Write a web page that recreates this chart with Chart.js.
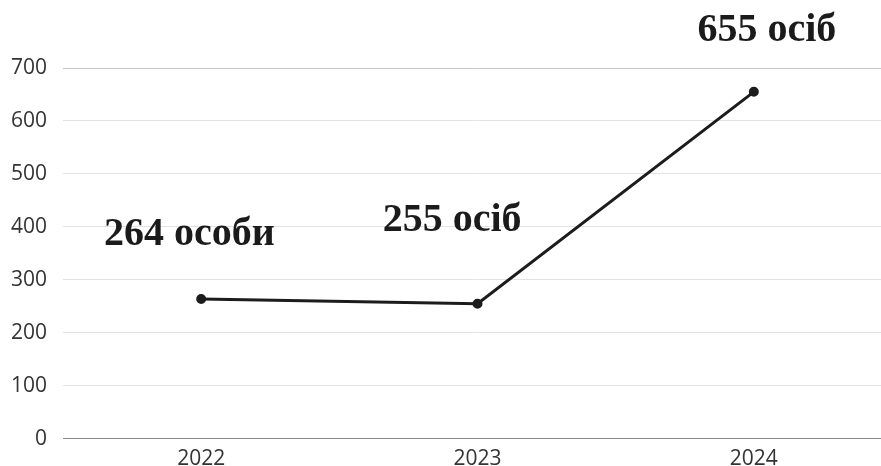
<!DOCTYPE html>
<html>
<head>
<meta charset="utf-8">
<script src="https://cdn.jsdelivr.net/npm/chart.js@4/dist/chart.umd.min.js"></script>
<style>
  html, body { margin: 0; padding: 0; background: #fff; overflow: hidden; }
  canvas { display: block; }
</style>
</head>
<body>
<canvas id="peopleChart" width="899" height="480"></canvas>
<script>
// data
let years = ["2022", "2023", "2024"];
let people = [264, 255, 655];
let noteTexts = ["264 особи", "255 осіб", "655 осіб"];
// where each note sits: shift in category steps, baseline in axis units
let noteDx = [-0.043, -0.092, 0.047];
let noteValue = [365, 393, 751];

// draws the big serif notes over the chart
let notesPlugin = {
  id: 'notes',
  afterDatasetsDraw(chart) {
    let ctx = chart.ctx;
    let xs = chart.scales.x;
    let ys = chart.scales.y;
    let step = xs.getPixelForValue(1) - xs.getPixelForValue(0);
    ctx.save();
    ctx.font = "bold 40px 'Liberation Serif', serif";
    ctx.fillStyle = '#1b1b1b';
    ctx.textAlign = 'center';
    ctx.textBaseline = 'alphabetic';
    noteTexts.forEach((txt, i) => {
      let x = xs.getPixelForValue(i) + noteDx[i] * step;
      let y = ys.getPixelForValue(noteValue[i]);
      ctx.fillText(txt, x, y);
    });
    ctx.restore();
  }
};

const ctx = document.getElementById('peopleChart').getContext('2d');

let myChart = new Chart(ctx, {
  type: 'line',
  data: {
    labels: years,
    datasets: [{
      data: people,
      borderColor: '#1c1c1c',
      backgroundColor: '#1c1c1c',
      borderWidth: 3,
      pointRadius: 3.5,
      pointHoverRadius: 4,
      fill: false,
      tension: 0
    }]
  },
  options: {
    responsive: false,
    animation: false,
    devicePixelRatio: 1,
    layout: {
      padding: { top: 68, left: -5, right: 0, bottom: 0 }
    },
    plugins: {
      legend: { display: false },
      tooltip: { enabled: false }
    },
    scales: {
      x: {
        offset: true,
        grid: { display: false, drawTicks: false },
        border: { display: true, color: '#8a8a8a', width: 1 },
        ticks: {
          color: '#333',
          font: { family: "'Open Sans', sans-serif", size: 21 },
          padding: 8
        }
      },
      y: {
        min: 0,
        max: 700,
        ticks: {
          stepSize: 100,
          color: '#333',
          font: { family: "'Open Sans', sans-serif", size: 21 },
          padding: 16
        },
        grid: {
          // top line is a bit darker in the original
          color: (c) => c.tick && c.tick.value == 700 ? '#c6c6c6' : '#e3e3e3',
          drawTicks: false
        },
        border: { display: false }
      }
    }
  },
  plugins: [notesPlugin]
});
</script>
</body>
</html>
